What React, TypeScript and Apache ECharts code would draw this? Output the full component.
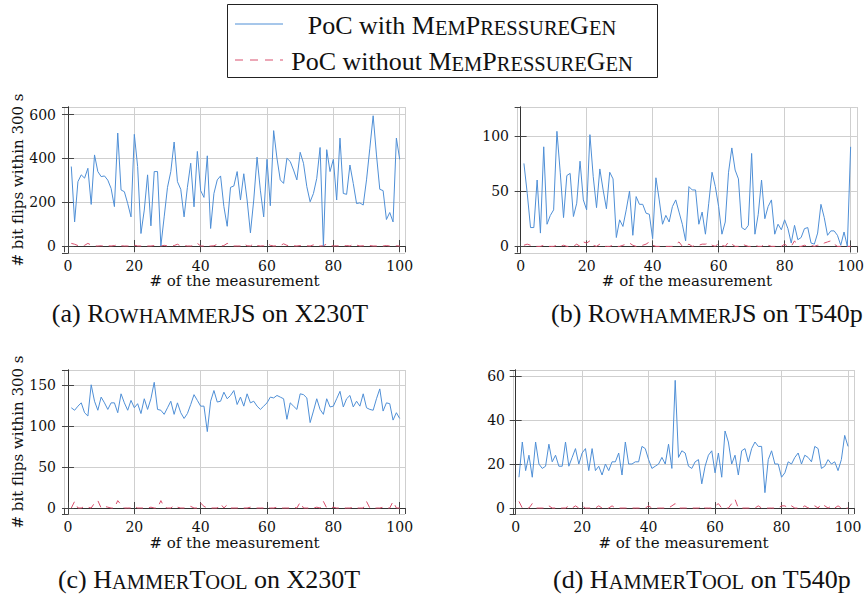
import React, { useEffect, useRef } from 'react';
import * as echarts from 'echarts';

// measurement number (1..100) used as the x value of every point
const measurement: number[] = Array.from({ length: 100 }, (_, i) => i + 1);

// (a) RowhammerJS on X230T
const rjsX230With = [363, 110, 294, 325, 310, 355, 190, 416, 340, 317, 320, 301, 263, 180, 516, 256, 248, 194, 133, 510,
  363, 57, 164, 325, 92, 340, 340, 0, 133, 268, 340, 475, 294, 259, 133, 268, 378, 179, 432, 253,
  222, 412, 80, 240, 302, 320, 180, 90, 268, 274, 340, 210, 330, 210, 60, 210, 406, 255, 133, 396,
  184, 527, 401, 302, 286, 401, 386, 347, 302, 428, 378, 271, 202, 240, 309, 450, 0, 440, 340, 396,
  210, 493, 240, 236, 370, 286, 194, 197, 187, 302, 447, 595, 416, 259, 253, 121, 153, 110, 493, 396];
const rjsX230Without = [12, 8, 2, 0, 3, 12, 4, 0, 0, 1, 0, 1, 0, 2, 6, 1, 0, 0, 2, 4,
  0, 0, 1, 0, 0, 2, 0, 0, 3, 0, 0, 2, 8, 0, 2, 0, 0, 2, 12, 0,
  0, 2, 0, 1, 8, 0, 2, 12, 5, 0, 0, 0, 10, 1, 0, 10, 2, 0, 1, 12,
  3, 0, 1, 2, 10, 3, 0, 1, 0, 2, 0, 1, 0, 5, 7, 0, 1, 9, 3, 0,
  1, 0, 0, 2, 0, 8, 4, 0, 1, 0, 2, 0, 0, 1, 0, 2, 0, 0, 1, 0];

// (b) RowhammerJS on T540p
const rjsT540With = [75, 48, 17, 17, 60, 12, 90, 20, 28, 33, 104, 67, 26, 64, 66, 27, 39, 77, 42, 33,
  101, 63, 35, 70, 51, 34, 67, 61, 8, 24, 18, 33, 50, 10, 45, 38, 38, 30, 29, 7,
  62, 42, 20, 28, 22, 36, 42, 31, 20, 5, 54, 51, 51, 20, 31, 11, 39, 67, 54, 36,
  11, 22, 67, 89, 69, 61, 17, 15, 19, 84, 11, 29, 60, 25, 36, 42, 11, 20, 15, 24,
  16, 3, 19, 6, 8, 16, 17, 3, 2, 12, 38, 26, 10, 14, 14, 10, 1, 13, 0, 90];
const rjsT540Without = [1, 2, 1, 0, 0, 0, 1, 0, 0, 0, 1, 0, 1, 0, 0, 0, 2, 0, 4, 3,
  5, 1, 0, 2, 0, 0, 0, 1, 0, 0, 1, 2, 3, 1, 0, 0, 1, 2, 4, 1,
  0, 0, 0, 0, 0, 0, 2, 4, 0, 0, 2, 0, 1, 1, 2, 2, 3, 1, 0, 3,
  1, 0, 4, 2, 0, 0, 2, 1, 0, 0, 1, 0, 0, 2, 1, 0, 0, 1, 0, 2,
  0, 0, 5, 0, 0, 1, 0, 1, 0, 1, 1, 3, 4, 5, 2, 0, 0, 1, 0, 0];

// (c) HammerTool on X230T
const htX230With = [122, 119, 124, 128, 116, 112, 150, 130, 119, 135, 128, 120, 128, 128, 116, 139, 128, 119, 131, 122,
  127, 115, 133, 120, 133, 153, 120, 119, 114, 122, 130, 114, 128, 116, 109, 115, 126, 138, 131, 124,
  124, 93, 130, 143, 129, 130, 141, 133, 137, 143, 126, 135, 124, 139, 128, 130, 124, 120, 124, 128,
  135, 134, 137, 135, 133, 108, 128, 124, 120, 139, 138, 134, 104, 118, 133, 120, 114, 133, 123, 124,
  133, 142, 123, 133, 137, 123, 130, 124, 139, 122, 120, 119, 133, 145, 118, 128, 127, 107, 116, 109];
const htX230Without = [0, 8, 0, 0, 2, 1, 0, 6, 9, 0, 2, 1, 0, 0, 9, 4, 0, 0, 0, 2,
  0, 0, 0, 0, 1, 0, 0, 9, 1, 0, 0, 3, 1, 0, 0, 1, 2, 0, 0, 6,
  2, 0, 0, 0, 0, 5, 0, 4, 0, 0, 0, 1, 0, 0, 1, 0, 0, 0, 0, 1,
  0, 0, 1, 0, 0, 0, 0, 1, 0, 7, 0, 0, 0, 0, 1, 0, 8, 0, 0, 1,
  0, 0, 0, 0, 0, 1, 0, 0, 0, 8, 0, 0, 0, 0, 1, 0, 0, 8, 0, 0];

// (d) HammerTool on T540p
const htT540With = [14, 30, 17, 24, 14, 30, 20, 18, 19, 29, 21, 24, 19, 19, 30, 19, 23, 27, 20, 25,
  27, 17, 27, 17, 19, 15, 20, 17, 21, 21, 25, 15, 30, 20, 20, 21, 21, 28, 27, 22,
  18, 19, 20, 23, 20, 29, 18, 58, 23, 26, 25, 19, 18, 21, 22, 11, 19, 24, 26, 16,
  25, 14, 35, 30, 20, 24, 15, 26, 27, 21, 27, 30, 28, 28, 7, 22, 26, 20, 20, 14,
  16, 21, 20, 23, 25, 20, 24, 23, 21, 28, 27, 18, 19, 22, 20, 21, 17, 22, 33, 28];
const htT540Without = [3, 0, 0, 0, 2, 0, 0, 0, 0, 1, 0, 0, 0, 0, 0, 1, 0, 1, 0, 1,
  0, 0, 0, 0, 1, 0, 0, 0, 1, 0, 0, 0, 0, 0, 0, 0, 0, 0, 0, 1,
  0, 0, 0, 0, 0, 0, 1, 2, 0, 0, 0, 0, 0, 0, 0, 1, 0, 0, 0, 1,
  2, 0, 0, 0, 2, 4, 0, 0, 0, 0, 0, 0, 1, 0, 0, 0, 0, 0, 0, 1,
  1, 0, 1, 0, 0, 0, 1, 0, 1, 1, 0, 2, 1, 0, 1, 0, 1, 0, 0, 0];

const seriesWith = [rjsX230With, rjsT540With, htX230With, htT540With];
const seriesWithout = [rjsX230Without, rjsT540Without, htX230Without, htT540Without];

const NAME_WITH = 'PoC with MemPressureGen';
const NAME_WITHOUT = 'PoC without MemPressureGen';
const X_TITLE = '# of the measurement';
const Y_TITLE = '# bit flips within 300 s';

const BLUE = '#4f8fd6';
const RED = '#d9506e';
const BIG = "'Liberation Serif', serif";
const SMALL = "'DejaVu Serif', serif";

const grids = [
  { left: 64, top: 107, width: 341, height: 146 },
  { left: 517, top: 107, width: 342, height: 146 },
  { left: 64, top: 370, width: 341, height: 144 },
  { left: 513, top: 370, width: 341, height: 144 },
];
const xRanges = [[-1.2, 101.6], [-1.1, 101.9], [-1.2, 101.6], [-0.8, 101.8]];
const yRanges = [[-32, 635], [-6, 126], [-7.3, 168], [-2.7, 62.7]];
const ySteps = [200, 50, 50, 20];
const ySplits = [3, 3, 4, 3];
const xNameGaps = [18, 18, 21, 21];

const pairs = (ys: number[]) => ys.map((v, i) => [measurement[i], v]);

const stepFormatter = (step: number) => (v: number) =>
  Math.abs(v / step - Math.round(v / step)) < 1e-6 ? String(Math.round(v)) : '';

const rich = {
  n: { fontFamily: BIG, fontSize: 26, lineHeight: 30, verticalAlign: 'bottom', fill: '#111' },
  s: { fontFamily: BIG, fontSize: 20.5, lineHeight: 26, verticalAlign: 'bottom', fill: '#111' },
};

export default function App() {
  const ref = useRef<HTMLDivElement>(null);
  useEffect(() => {
    if (!ref.current) return;
    const chart = echarts.init(ref.current, null, { renderer: 'svg' });
    const xAxis: any[] = [];
    const yAxis: any[] = [];
    const series: any[] = [];
    grids.forEach((g, k) => {
      const tickStyle = { show: true, inside: true, length: 6, lineStyle: { color: '#444', width: 1 } };
      xAxis.push({
        type: 'value', gridIndex: k, position: 'bottom', min: xRanges[k][0], max: xRanges[k][1], splitNumber: 5,
        axisLine: { show: true, lineStyle: { color: '#333', width: 1 } },
        axisTick: tickStyle,
        axisLabel: { formatter: stepFormatter(20), margin: 6, fontFamily: SMALL, fontSize: 14, color: '#111', showMinLabel: false, showMaxLabel: false },
        splitLine: { show: true, lineStyle: { color: '#cfcfcf', width: 1 } },
        name: X_TITLE, nameLocation: 'middle', nameGap: xNameGaps[k],
        nameTextStyle: { fontFamily: SMALL, fontSize: 15, color: '#111' },
      });
      xAxis.push({
        type: 'value', gridIndex: k, position: 'top', min: xRanges[k][0], max: xRanges[k][1], splitNumber: 5,
        axisLine: { show: true, lineStyle: { color: '#333', width: 1 } },
        axisTick: tickStyle, axisLabel: { show: false }, splitLine: { show: false },
      });
      yAxis.push({
        type: 'value', gridIndex: k, position: 'left', min: yRanges[k][0], max: yRanges[k][1], splitNumber: ySplits[k],
        axisLine: { show: true, lineStyle: { color: '#333', width: 1 } },
        axisTick: tickStyle,
        axisLabel: { formatter: stepFormatter(ySteps[k]), margin: 8, fontFamily: SMALL, fontSize: 14, color: '#111', showMinLabel: false, showMaxLabel: false },
        splitLine: { show: true, lineStyle: { color: '#cfcfcf', width: 1 } },
        name: k % 2 === 0 ? Y_TITLE : '', nameLocation: 'middle', nameGap: 38, nameRotate: 90,
        nameTextStyle: { fontFamily: SMALL, fontSize: 15, color: '#111' },
      });
      yAxis.push({
        type: 'value', gridIndex: k, position: 'right', min: yRanges[k][0], max: yRanges[k][1], splitNumber: ySplits[k],
        axisLine: { show: true, lineStyle: { color: '#333', width: 1 } },
        axisTick: tickStyle, axisLabel: { show: false }, splitLine: { show: false },
      });
      series.push({
        type: 'line', name: NAME_WITH, xAxisIndex: k * 2, yAxisIndex: k * 2, data: pairs(seriesWith[k]),
        symbol: 'none', lineStyle: { color: BLUE, width: 1 }, itemStyle: { color: BLUE }, z: 3,
      });
      series.push({
        type: 'line', name: NAME_WITHOUT, xAxisIndex: k * 2, yAxisIndex: k * 2, data: pairs(seriesWithout[k]),
        symbol: 'none', lineStyle: { color: RED, width: 1, type: [7, 6] }, itemStyle: { color: RED }, z: 2,
      });
    });

    const caption = (x: number, y: number, text: string) => ({
      type: 'text', x, y,
      style: { text, rich, align: 'center', verticalAlign: 'middle', fill: '#111', fontFamily: BIG, fontSize: 26 },
    });

    chart.setOption({
      animation: false,
      backgroundColor: '#fff',
      grid: grids.map((g) => ({ ...g, containLabel: false })),
      xAxis, yAxis, series,
      graphic: [
        { type: 'rect', shape: { x: 227.5, y: 4.5, width: 430, height: 73 }, style: { fill: '#fff', stroke: '#222', lineWidth: 1 } },
        { type: 'line', shape: { x1: 235, y1: 24, x2: 283, y2: 24 }, style: { stroke: BLUE, lineWidth: 1 } },
        { type: 'line', shape: { x1: 235, y1: 60, x2: 283, y2: 60 }, style: { stroke: RED, lineWidth: 1, lineDash: [8, 7] } },
        caption(462, 23, '{n|PoC with M}{s|EM}{n|P}{s|RESSURE}{n|G}{s|EN}'),
        caption(462, 59, '{n|PoC without M}{s|EM}{n|P}{s|RESSURE}{n|G}{s|EN}'),
        caption(210, 311, '{n|(a) R}{s|OWHAMMER}{n|JS on X230T}'),
        caption(707, 311, '{n|(b) R}{s|OWHAMMER}{n|JS on T540p}'),
        caption(209, 577, '{n|(c) H}{s|AMMER}{n|T}{s|OOL}{n| on X230T}'),
        caption(702, 577, '{n|(d) H}{s|AMMER}{n|T}{s|OOL}{n| on T540p}'),
      ],
    });
    return () => chart.dispose();
  }, []);
  return <div ref={ref} style={{ position: 'absolute', left: 0, top: 0, width: 867, height: 599 }} />;
}
